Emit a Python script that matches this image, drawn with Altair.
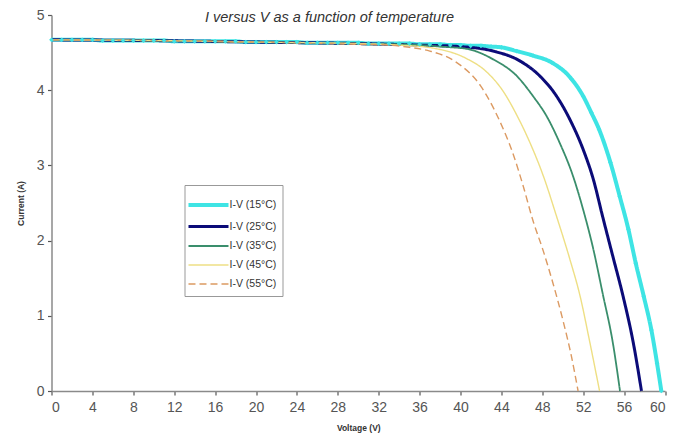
import altair as alt
import pandas as pd

TITLE = "I versus V as a function of temperature"
X_TITLE = "Voltage (V)"
Y_TITLE = "Current (A)"
SERIES = ["I-V (15°C)", "I-V (25°C)", "I-V (35°C)", "I-V (45°C)", "I-V (55°C)"]
X_TICKS = [0, 4, 8, 12, 16, 20, 24, 28, 32, 36, 40, 44, 48, 52, 56, 60]
Y_TICKS = [0, 0.5, 1, 1.5, 2, 2.5, 3, 3.5, 4, 4.5, 5]

v15 = [0, 1, 2, 3, 4, 5, 6, 7, 8, 9, 10, 11, 12, 13, 14, 15, 16, 17, 18, 19, 20,
       21, 22, 23, 24, 25, 26, 27, 28, 29, 30, 31, 32, 33, 34, 35, 36, 37, 38, 39,
       40, 41, 42, 43, 44, 45.5, 47.1, 48.9, 50.85, 52.0, 52.8, 53.55, 54.66, 55.57,
       56.42, 57.14, 57.92, 58.67, 59.22, 59.64]
i15 = [4.67, 4.67, 4.67, 4.67, 4.67, 4.66, 4.66, 4.66, 4.66, 4.66, 4.66, 4.66, 4.65,
       4.65, 4.65, 4.65, 4.65, 4.65, 4.65, 4.64, 4.64, 4.64, 4.64, 4.64, 4.64, 4.63,
       4.63, 4.63, 4.63, 4.63, 4.63, 4.62, 4.62, 4.62, 4.62, 4.62, 4.61, 4.61, 4.61,
       4.60, 4.60, 4.59, 4.59, 4.58, 4.57, 4.52, 4.46, 4.37, 4.15, 3.92, 3.70, 3.48,
       3.04, 2.59, 2.15, 1.70, 1.26, 0.81, 0.37, 0.0]

v25 = [0, 10, 20, 30, 36, 40, 43.2, 45.8, 47.75, 49.4, 50.7, 52.0, 53.0, 53.9, 54.9,
       55.9, 56.9, 57.7]
i25 = [4.67, 4.66, 4.64, 4.62, 4.60, 4.58, 4.52, 4.39, 4.19, 3.92, 3.61, 3.21, 2.81,
       2.32, 1.79, 1.26, 0.64, 0.0]

v35 = [0, 10, 20, 30, 36, 38, 40.6, 43.2, 45.5, 47.1, 48.4, 49.7, 51.0, 52.0, 53.0,
       53.9, 54.9, 55.6]
i35 = [4.67, 4.66, 4.64, 4.62, 4.60, 4.58, 4.55, 4.41, 4.19, 3.92, 3.66, 3.30, 2.86,
       2.41, 1.88, 1.30, 0.64, 0.0]

v45 = [0, 10, 20, 30, 34, 37.3, 40.6, 42.5, 44.2, 45.5, 46.8, 48.1, 49.4, 50.7, 51.7,
       52.6, 53.6]
i45 = [4.67, 4.66, 4.64, 4.62, 4.60, 4.56, 4.42, 4.25, 3.98, 3.67, 3.30, 2.86, 2.32,
       1.75, 1.26, 0.68, 0.0]

v55 = [0, 10, 20, 30, 33, 35.0, 37.0, 39.5, 42.0, 43.8, 45.1, 46.1, 47.1, 48.1, 49.05,
       50.0, 50.85, 51.5]
i55 = [4.67, 4.66, 4.64, 4.61, 4.60, 4.57, 4.52, 4.38, 4.05, 3.60, 3.17, 2.74, 2.26,
       1.86, 1.43, 0.95, 0.46, 0.0]

COLORS = ["#3EE4E4", "#0B0B78", "#3A8E6C", "#EEDF84", "#DC9A62"]
WIDTHS = [4.0, 3.0, 1.8, 1.4, 1.4]
DASHES = [[1, 0], [1, 0], [1, 0], [1, 0], [7, 4]]

rows = []
for name, vs, cs in zip(SERIES, [v15, v25, v35, v45, v55], [i15, i25, i35, i45, i55]):
    for k, (v, c) in enumerate(zip(vs, cs)):
        rows.append({"series": name, "V": v, "I": c, "k": k})
df = pd.DataFrame(rows)

SANS = "Liberation Sans, Arial, sans-serif"

x_enc = alt.X("V:Q", scale=alt.Scale(domain=[0, 60], nice=False),
              axis=alt.Axis(values=X_TICKS, title=X_TITLE, grid=False,
                            labelPadding=5, titlePadding=9))
y_enc = alt.Y("I:Q", scale=alt.Scale(domain=[0, 5], nice=False),
              axis=alt.Axis(values=Y_TICKS, title=Y_TITLE, grid=False,
                            labelExpr="datum.value % 1 == 0 ? '' + datum.value : ''",
                            titlePadding=11, labelPadding=3.5))

leg = alt.Legend(orient="none", legendX=133, legendY=170, title=None,
                 symbolType="M-1.667,0L1.667,0", symbolSize=576, symbolOffset=4,
                 labelOffset=7, labelFontSize=10.5,
                 labelFont=SANS, labelColor="#333",
                 strokeColor="#999", fillColor="white", padding=6,
                 rowPadding=-2)

lines = alt.Chart(df).mark_line(interpolate="monotone").encode(
    x=x_enc,
    y=y_enc,
    order="k:Q",
    color=alt.Color("series:N", scale=alt.Scale(domain=SERIES, range=COLORS), legend=leg),
    strokeWidth=alt.StrokeWidth("series:N", scale=alt.Scale(type="ordinal", domain=SERIES, range=WIDTHS), legend=leg),
    strokeDash=alt.StrokeDash("series:N", scale=alt.Scale(domain=SERIES, range=DASHES), legend=leg),
)

pts = alt.Chart(df[df["series"] == SERIES[0]]).mark_point(
    shape="diamond", filled=True, size=22, color=COLORS[0], opacity=1
).encode(x="V:Q", y="I:Q")

title = alt.Chart(pd.DataFrame({"t": [TITLE]})).mark_text(
    align="left", baseline="middle", fontStyle="italic", fontSize=14.5,
    font=SANS, color="#333"
).encode(text="t:N", x=alt.value(153.5), y=alt.value(3))

chart = alt.layer(lines, pts, title).properties(
    width=613.5, height=376,
    autosize=alt.AutoSizeParams(type="none"),
    padding={"left": 43.5, "top": 7, "right": 8, "bottom": 45},
).configure_view(stroke=None).configure_axis(
    domainColor="#8a8a8a", domainWidth=1.5, tickColor="#555", tickSize=4, tickWidth=1.2,
    labelFont=SANS, labelFontSize=14, labelColor="#555",
    titleFont=SANS, titleFontSize=8.5, titleFontWeight="bold",
    titleColor="#333"
)

chart.save("out.html", embed_options={"renderer": "svg", "actions": False})
